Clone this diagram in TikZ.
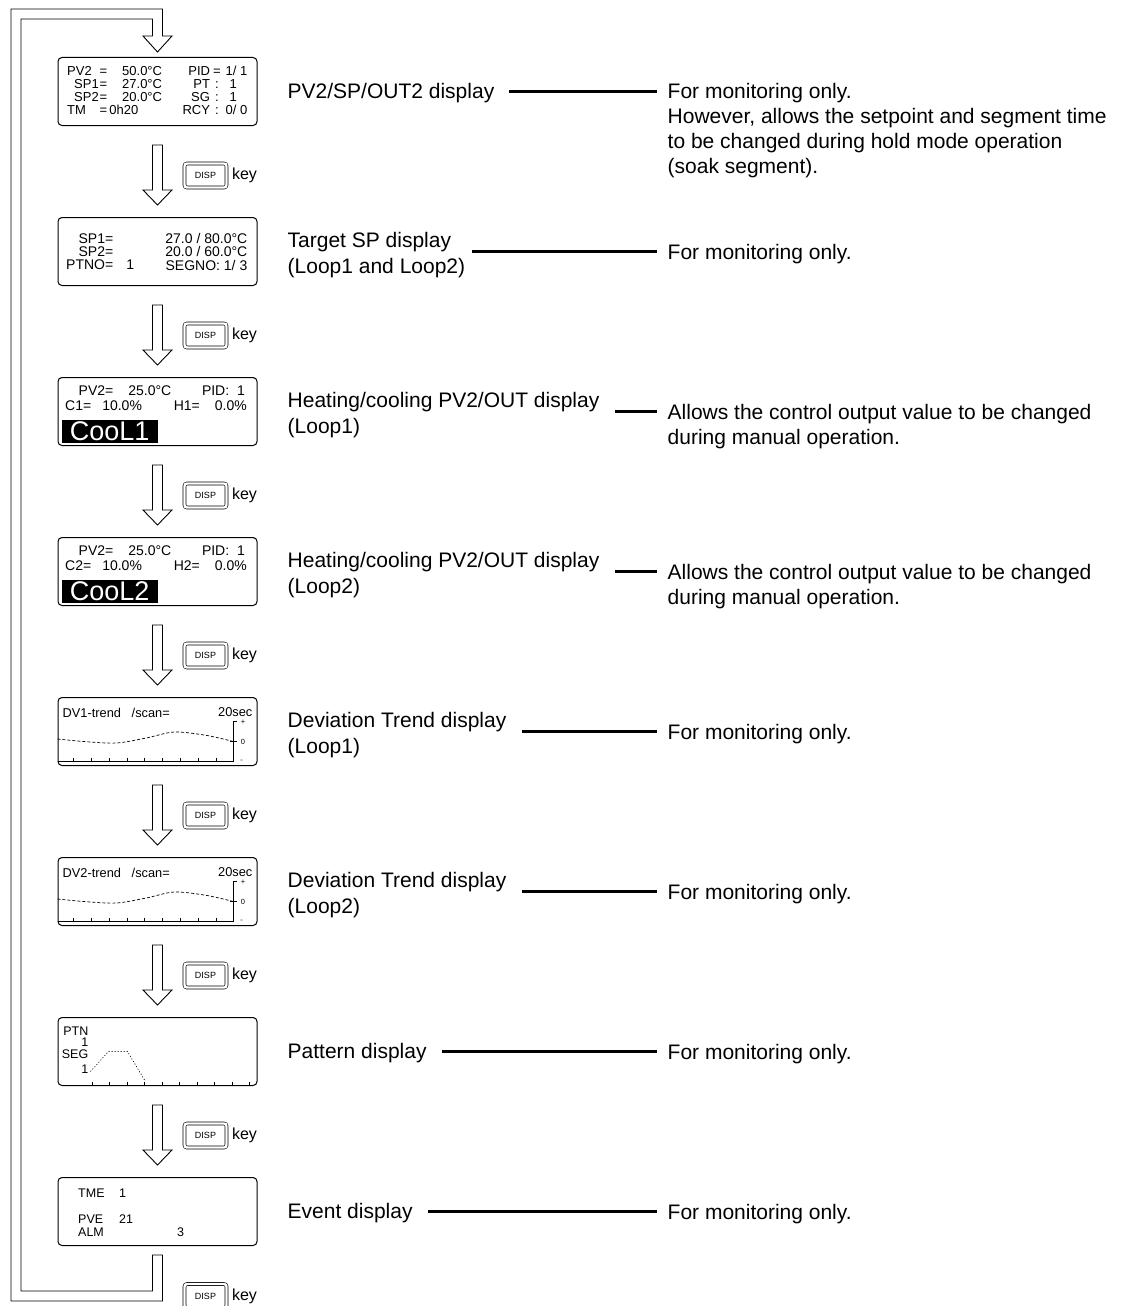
\documentclass[tikz,border=0pt]{standalone}
\usepackage{fontspec}
\setmainfont{Liberation Sans}
\usepackage{tikz}
\usetikzlibrary{positioning,calc}

\begin{document}
\begin{tikzpicture}[
	x=1pt, y=-1pt,
	node distance=91pt,
	lcd/.style={rectangle, rounded corners=4pt, draw, line width=1pt, minimum width=199pt, minimum height=68pt, inner sep=0pt},
	lcdtxt/.style={inner sep=0pt, font=\fontsize{13}{13}\selectfont},
	cool/.style={anchor=south west, fill=black, text=white, inner sep=0pt, minimum width=96pt, minimum height=22.5pt, font=\fontsize{27}{27}\selectfont},
	axtxt/.style={inner sep=0pt, font=\fontsize{7.5}{7.5}\selectfont},
	lbl/.style={align=left, inner sep=0pt, font=\fontsize{21}{26}\selectfont},
	desc/.style={align=left, inner sep=0pt, anchor=north west, font=\fontsize{21}{25}\selectfont},
	keycap/.style={draw, double, double distance=2.4pt, line width=0.6pt, rounded corners=2.5pt, minimum width=42pt, minimum height=24pt, inner sep=0pt, font=\fontsize{9}{9}\selectfont},
	keylbl/.style={inner sep=0pt, font=\fontsize{16}{16}\selectfont},
	lead/.style={line width=2.2pt, shorten <=15pt, shorten >=11pt},
	hollow/.style={draw, fill=white, line width=0.9pt, line join=miter},
	flow/.style={hollow, to path={($(\tikztostart.south)+(-5,19)$) -- ($(\tikztotarget.north)+(-5,-27)$) -- ++(-9.5,0) -- ($(\tikztotarget.north)+(0,-12)$) -- ++(14.5,-15) -- ++(-9.5,0) -- ($(\tikztostart.south)+(5,19)$) -- cycle}},
	tick/.style={line width=0.7pt},
	trend/.style={line width=0.7pt, dash pattern=on 3pt off 2pt},
]
\useasboundingbox (0,0) rectangle (1122,1306);
% Displays
\node[lcd] (d1) at (157.5,91.5) {};
\node[lcd] (d2) [below=of d1] {};
\node[lcd] (d3) [below=of d2] {};
\node[lcd] (d4) [below=of d3] {};
\node[lcd] (d5) [below=of d4] {};
\node[lcd] (d6) [below=of d5] {};
\node[lcd] (d7) [below=of d6] {};
\node[lcd] (d8) [below=of d7] {};
\draw[flow] (d1) to (d2); \draw[flow] (d2) to (d3); \draw[flow] (d3) to (d4); \draw[flow] (d4) to (d5);
\draw[flow] (d5) to (d6); \draw[flow] (d6) to (d7); \draw[flow] (d7) to (d8);
% Return path
\draw[hollow] ($(d8.south)+(5,9)$) -- ++(0,46) -- ++(-151.5,0) |- ($(d1.north)+(5,-48)$)
	-- ++(0,27) -- ++(9.5,0) -- ($(d1.north)+(0,-5)$) -- ++(-14.5,-16) -- ++(9.5,0)
	-- ++(0,-17) -- ++(-131.5,0) |- ($(d8.south)+(-5,45)$) -- ++(0,-36) -- cycle;
% DISP keys
\node[keycap] (k1) at ([shift={(48,49.5)}]d1.south) {DISP}; \node[keylbl] (kt1) [right=5pt of k1] {key};
\node[keycap] (k2) at ([shift={(48,49.5)}]d2.south) {DISP}; \node[keylbl] (kt2) [right=5pt of k2] {key};
\node[keycap] (k3) at ([shift={(48,49.5)}]d3.south) {DISP}; \node[keylbl] (kt3) [right=5pt of k3] {key};
\node[keycap] (k4) at ([shift={(48,49.5)}]d4.south) {DISP}; \node[keylbl] (kt4) [right=5pt of k4] {key};
\node[keycap] (k5) at ([shift={(48,49.5)}]d5.south) {DISP}; \node[keylbl] (kt5) [right=5pt of k5] {key};
\node[keycap] (k6) at ([shift={(48,49.5)}]d6.south) {DISP}; \node[keylbl] (kt6) [right=5pt of k6] {key};
\node[keycap] (k7) at ([shift={(48,49.5)}]d7.south) {DISP}; \node[keylbl] (kt7) [right=5pt of k7] {key};
\node[keycap] (k8) at ([shift={(48,50)}]d8.south) {DISP}; \node[keylbl] (kt8) [right=5pt of k8] {key};
% Screen contents
\begin{scope}[shift={(d1.north west)}]
	\node[lcdtxt, align=left, anchor=west] (s1a) at (9.5,33.5) {\makebox[32.5pt][l]{PV2}\makebox[22.5pt][l]{=}50.0°C\\\makebox[32.5pt][l]{\hspace{7pt}SP1}\makebox[22.5pt][l]{=}27.0°C\\\makebox[32.5pt][l]{\hspace{7pt}SP2}\makebox[22.5pt][l]{=}20.0°C\\\makebox[32.5pt][l]{TM}=\,0h20};
	\node[lcdtxt, anchor=east] (s1b) at (190,35) {\begin{tabular}{@{}r@{\hspace{3pt}}c@{\hspace{5pt}}l@{}}PID & = & 1/ 1\\PT & : & \hspace{4pt}1\\SG & : & \hspace{4pt}1\\RCY & : & 0/ 0\end{tabular}};
\end{scope}
\begin{scope}[shift={(d2.north west)}]
	\node[lcdtxt, anchor=west, font=\fontsize{14}{12}\selectfont] (s2a) at (8.5,36.5) {\begin{tabular}{@{}r@{\hspace{13pt}}l@{}}SP1= & \\SP2= & \\PTNO= & 1\end{tabular}};
	\node[lcdtxt, anchor=east, font=\fontsize{14}{12}\selectfont] (s2b) at (190,36.5) {\begin{tabular}{@{}r@{}}27.0 / 80.0°C\\20.0 / 60.0°C\\SEGNO: 1/ 3\end{tabular}};
\end{scope}
\begin{scope}[shift={(d3.north west)}]
	\node[lcdtxt, anchor=west, font=\fontsize{14}{14}\selectfont] (s3a) at (21,14) {PV2=\hspace{15pt}25.0°C};
	\node[lcdtxt, anchor=east, font=\fontsize{14}{14}\selectfont] (s3b) at (187.5,14) {PID:\ \ 1};
	\node[lcdtxt, anchor=west, font=\fontsize{14}{14}\selectfont] (s3c) at (7.5,29) {C1=\hspace{11pt}10.0\%};
	\node[lcdtxt, anchor=east, font=\fontsize{14}{14}\selectfont] (s3d) at (189.5,29) {H1=\hspace{15pt}0.0\%};
	\node[cool] (c3) at (4,66) {CooL1};
\end{scope}
\begin{scope}[shift={(d4.north west)}]
	\node[lcdtxt, anchor=west, font=\fontsize{14}{14}\selectfont] (s4a) at (21,14) {PV2=\hspace{15pt}25.0°C};
	\node[lcdtxt, anchor=east, font=\fontsize{14}{14}\selectfont] (s4b) at (187.5,14) {PID:\ \ 1};
	\node[lcdtxt, anchor=west, font=\fontsize{14}{14}\selectfont] (s4c) at (7.5,29) {C2=\hspace{11pt}10.0\%};
	\node[lcdtxt, anchor=east, font=\fontsize{14}{14}\selectfont] (s4d) at (189.5,29) {H2=\hspace{15pt}0.0\%};
	\node[cool] (c4) at (4,66) {CooL2};
\end{scope}
\begin{scope}[shift={(d5.north west)}]
	\node[lcdtxt, anchor=west, font=\fontsize{12.8}{13}\selectfont] (s5a) at (5,15.5) {DV1-trend};
	\node[lcdtxt, anchor=west, font=\fontsize{12.8}{13}\selectfont] (s5b) at (74,15.5) {/scan=};
	\node[lcdtxt, anchor=east, font=\fontsize{12.8}{13}\selectfont] (s5c) at (195,15) {20sec};
	\draw[tick] (0,64.5) -- (176,64.5) -- (176,24.5) -- (179,24.5);
	\draw[tick] (172.5,44.5) -- (179,44.5);
	\foreach \i in {0,...,8} \draw[tick] ({16+17.8*\i},64.5) -- ++(0,-3.5);
	\draw[trend] plot[smooth] coordinates {(0,42) (30,44.8) (59,46) (88,41.2) (117,35) (149,38.4) (176,44.5)};
	\node[axtxt] (s5p) at (185.5,25) {+}; \node[axtxt] (s5z) at (185.5,44.5) {0}; \node[axtxt] (s5m) at (184,64) {-};
\end{scope}
\begin{scope}[shift={(d6.north west)}]
	\node[lcdtxt, anchor=west, font=\fontsize{12.8}{13}\selectfont] (s6a) at (5,15.5) {DV2-trend};
	\node[lcdtxt, anchor=west, font=\fontsize{12.8}{13}\selectfont] (s6b) at (74,15.5) {/scan=};
	\node[lcdtxt, anchor=east, font=\fontsize{12.8}{13}\selectfont] (s6c) at (195,15) {20sec};
	\draw[tick] (0,64.5) -- (176,64.5) -- (176,24.5) -- (179,24.5);
	\draw[tick] (172.5,44.5) -- (179,44.5);
	\foreach \i in {0,...,8} \draw[tick] ({16+17.8*\i},64.5) -- ++(0,-3.5);
	\draw[trend] plot[smooth] coordinates {(0,42) (30,44.8) (59,46) (88,41.2) (117,35) (149,38.4) (176,44.5)};
	\node[axtxt] (s6p) at (185.5,25) {+}; \node[axtxt] (s6z) at (185.5,44.5) {0}; \node[axtxt] (s6m) at (184,64) {-};
\end{scope}
\begin{scope}[shift={(d7.north west)}]
	\node[lcdtxt, align=right, anchor=east, font=\fontsize{12.5}{11.5}\selectfont] (s7a) at (31,19.5) {PTN\\1};
	\node[lcdtxt, align=right, anchor=east, font=\fontsize{12.5}{11.5}\selectfont] (s7b) at (31,44.5) {SEG\\[4pt]1};
	\foreach \i in {0,...,9} \draw[tick] ({34.5+17.5*\i},68.5) -- ++(0,-3.5);
	\draw[tick, dash pattern=on 1pt off 2pt] (33,54.5) -- (51,34.5) -- (70,34.5) -- (87,63);
\end{scope}
\begin{scope}[shift={(d8.north west)}]
	\node[lcdtxt, anchor=west, font=\fontsize{12.5}{12.4}\selectfont] (s8a) at (20.5,37.5) {\begin{tabular}{@{}p{41pt}@{}l@{}}TME & 1\\[13.6pt]PVE & 21\\ALM & \hspace{58pt}3\end{tabular}};
\end{scope}
% Display names and what they allow
\node[lbl] (l1) [right=30pt of d1, yshift=-1.5pt] {PV2/SP/OUT2 display};
\node[lbl] (l2) [right=30pt of d2, yshift=-4pt] {Target SP display\\(Loop1 and Loop2)};
\node[lbl] (l3) [right=30pt of d3, yshift=-4pt] {Heating/cooling PV2/OUT display\\(Loop1)};
\node[lbl] (l4) [right=30pt of d4, yshift=-4pt] {Heating/cooling PV2/OUT display\\(Loop2)};
\node[lbl] (l5) [right=30pt of d5, yshift=-4pt] {Deviation Trend display\\(Loop1)};
\node[lbl] (l6) [right=30pt of d6, yshift=-4pt] {Deviation Trend display\\(Loop2)};
\node[lbl] (l7) [right=30pt of d7, yshift=-1.5pt] {Pattern display};
\node[lbl] (l8) [right=30pt of d8, yshift=-1.5pt] {Event display};
\node[desc] (r1) at ([shift={(410,-8.5)}]d1.east) {For monitoring only.\\However, allows the setpoint and segment time\\to be changed during hold mode operation\\(soak segment).};
\node[desc] (r2) at ([shift={(410,-7.5)}]d2.east) {For monitoring only.};
\node[desc] (r3) at ([shift={(410,-7)}]d3.east) {Allows the control output value to be changed\\during manual operation.};
\node[desc] (r4) at ([shift={(410,-7)}]d4.east) {Allows the control output value to be changed\\during manual operation.};
\node[desc] (r5) at ([shift={(410,-7.5)}]d5.east) {For monitoring only.};
\node[desc] (r6) at ([shift={(410,-7.5)}]d6.east) {For monitoring only.};
\node[desc] (r7) at ([shift={(410,-7.5)}]d7.east) {For monitoring only.};
\node[desc] (r8) at ([shift={(410,-7.5)}]d8.east) {For monitoring only.};
\draw[lead] (l1.east |- d1) -- (r1.west |- d1); \draw[lead, shorten <=7pt] (l2.east |- d2) -- (r2.west |- d2);
\draw[lead] (l3.east |- d3) -- (r3.west |- d3); \draw[lead] (l4.east |- d4) -- (r4.west |- d4);
\draw[lead] (l5.east |- d5) -- (r5.west |- d5); \draw[lead] (l6.east |- d6) -- (r6.west |- d6);
\draw[lead] (l7.east |- d7) -- (r7.west |- d7); \draw[lead] (l8.east |- d8) -- (r8.west |- d8);
\end{tikzpicture}
\end{document}
